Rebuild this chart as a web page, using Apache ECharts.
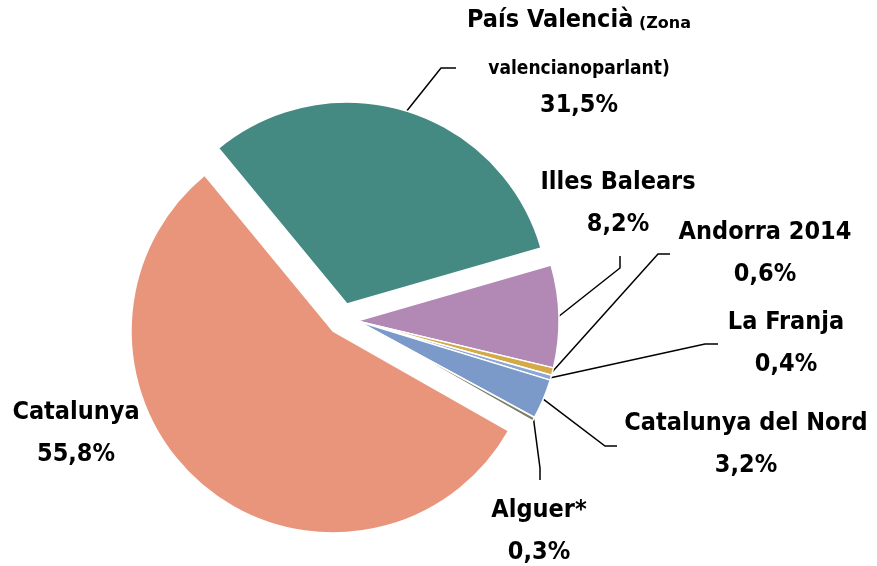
<!DOCTYPE html>
<html>
<head>
<meta charset="utf-8">
<script src="https://cdn.jsdelivr.net/npm/echarts@6/dist/echarts.min.js"></script>
<style>
  html, body { margin: 0; padding: 0; background: #fff; }
  #chart { width: 877px; height: 566px; }
</style>
</head>
<body>
<div id="chart"></div>
<script>
// dades (ordre horari, començant pel País Valencià)
const regions = ['País Valencià', 'Illes Balears', 'Andorra 2014', 'La Franja', 'Catalunya del Nord', 'Alguer*', 'Catalunya'];
const shares = [31.5, 8.2, 0.6, 0.4, 3.2, 0.3, 55.8];
const colors = ['#458983', '#B288B4', '#D4AA48', '#8AA6D6', '#7B9AC9', '#7D7D69', '#E8957B'];

// grups de porcions amb el seu propi centre (porcions separades)
const groups = [
  { members: ['País Valencià'], center: [347, 304] },
  { members: ['Catalunya'], center: [333, 331] },
  { members: ['Illes Balears', 'Andorra 2014', 'La Franja', 'Catalunya del Nord', 'Alguer*'], center: [357, 321] }
];

// on van les etiquetes i el tram final de cada línia guia
const labelPos = {
  'País Valencià': { x: 579, y: 57, line: [[441, 68], [456, 68]] },
  'Illes Balears': { x: 618, y: 203, line: [[620, 268], [620, 256]] },
  'Andorra 2014': { x: 765, y: 253, line: [[658, 254], [670, 254]] },
  'La Franja': { x: 786, y: 343, line: [[705, 344], [718, 344]] },
  'Catalunya del Nord': { x: 746, y: 444, line: [[605, 446], [617, 446]] },
  'Alguer*': { x: 539, y: 531, line: [[540, 468], [540, 480]] },
  'Catalunya': { x: 76, y: 433 }
};

const FONT = "'DejaVu Sans Condensed', 'DejaVu Sans', sans-serif";

function pct(v) {
  return v.toFixed(1).replace('.', ',') + '%';
}

function txt(size, lh, extra) {
  return Object.assign({ fontSize: size, lineHeight: lh, fontWeight: 'bold', fontFamily: FONT, color: '#000' }, extra || {});
}

function buildSeries(group) {
  return {
    type: 'pie',
    center: group.center,
    radius: 202,
    startAngle: 129.5,
    clockwise: true,
    avoidLabelOverlap: false,
    silent: true,
    emphasis: { disabled: true },
    label: {
      position: 'outside',
      color: '#000',
      fontWeight: 'bold',
      fontFamily: FONT,
      fontSize: 25,
      formatter: function (p) {
        if (p.name === 'País Valencià') {
          return '{pv|País Valencià}{z| (Zona}\n{v|valencianoparlant)}\n{p|' + pct(p.value) + '}';
        }
        return '{n|' + p.name + '}\n{n|' + pct(p.value) + '}';
      },
      rich: {
        n: txt(25, 42),
        pv: txt(25, 54),
        z: txt(16, 20, { fontFamily: "'DejaVu Sans', sans-serif", padding: [6, 0, 0, 0] }),
        v: txt(19, 43),
        p: txt(25, 30)
      }
    },
    labelLine: { show: true, smooth: false, lineStyle: { color: '#000', width: 1.5 } },
    labelLayout: function (params) {
      const pos = labelPos[regions[params.dataIndex]];
      const out = { x: pos.x, y: pos.y, align: 'center', verticalAlign: 'middle' };
      if (pos.line && params.labelLinePoints) {
        out.labelLinePoints = [params.labelLinePoints[0]].concat(pos.line);
      }
      return out;
    },
    data: regions.map(function (name, i) {
      const visible = group.members.indexOf(name) >= 0;
      return {
        name: name,
        value: shares[i],
        itemStyle: visible
          ? { color: colors[i], borderColor: '#fff', borderWidth: 1.5 }
          : { color: 'transparent', borderWidth: 0 },
        label: { show: visible },
        labelLine: { show: visible && !!labelPos[name].line }
      };
    })
  };
}

const chart = echarts.init(document.getElementById('chart'));
chart.setOption({
  animation: false,
  backgroundColor: '#fff',
  series: groups.map(buildSeries)
});
</script>
</body>
</html>
